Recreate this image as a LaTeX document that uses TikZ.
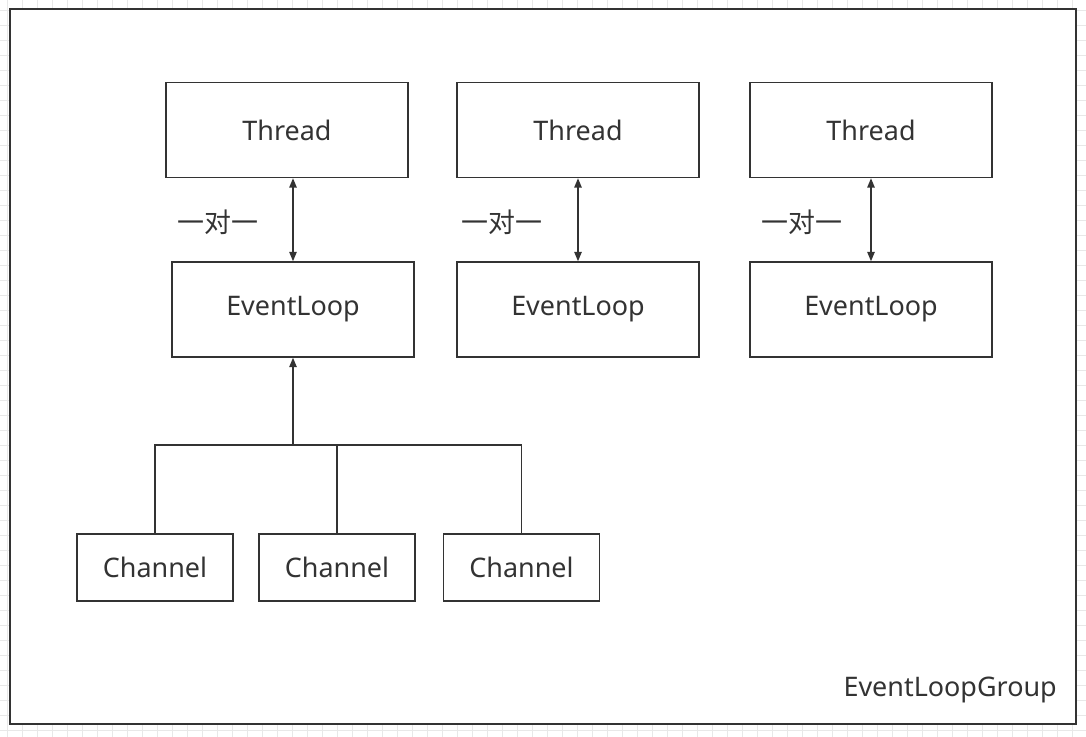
\documentclass[tikz,border=0pt]{standalone}
\usepackage{fontspec}
\setmainfont{Noto Sans}
\newfontfamily\cjk{Noto Sans CJK SC}
\usetikzlibrary{arrows.meta, positioning, calc}
\definecolor{elGray}{HTML}{333333}
\definecolor{elGrid}{HTML}{E8E8E8}

\begin{document}
\begin{tikzpicture}[x=0.75pt, y=-0.75pt,
  >={Triangle[length=7pt, width=5.5pt]},
  every node/.style={text=elGray, font=\fontsize{20.2}{24}\selectfont, inner sep=0pt},
  box/.style={draw=elGray, line width=1.1pt, fill=white},
  threadbox/.style={box, minimum width=181.5pt, minimum height=71.25pt},
  channelbox/.style={box, minimum width=117pt, minimum height=50.25pt},
  groupbox/.style={draw=elGray, line width=1.5pt, fill=white,
                   minimum width=799.5pt, minimum height=536.25pt},
  pairlabel/.style={font=\cjk\fontsize{20.2}{24}\selectfont},
  link/.style={draw=elGray, line width=1.1pt}]
  \useasboundingbox (0,0) rectangle (1086,737);
  % background grid
  \foreach \gx in {7,22,...,1086}
    \draw[elGrid, line width=0.6pt] (\gx,0) -- (\gx,737);
  \foreach \gy in {10,25,...,737}
    \draw[elGrid, line width=0.6pt] (0,\gy) -- (1086,\gy);
  \node[groupbox] (group) at (543,366.5) {};
  \node[anchor=east] (grouplabel) at (1057,690) {EventLoopGroup};
  % threads and event loops
  \node[threadbox] (t1) at (287,130) {Thread};
  \node[threadbox] (e1) at (293,309.5) {EventLoop};
  \node[threadbox] (t2) at (578,130) {Thread};
  \node[threadbox] (e2) at (578,309.5) {EventLoop};
  \node[threadbox] (t3) at (871,130) {Thread};
  \node[threadbox] (e3) at (871,309.5) {EventLoop};
  \foreach \i/\lx in {1/218, 2/502, 3/802} {
    \draw[link, <->] (e\i.north |- t\i.south) -- (e\i.north);
    \node[pairlabel] (pair\i) at (\lx,222) {一对一};
  }
  % channels
  \node[channelbox] (c1) at (155,567.5) {Channel};
  \node[channelbox] (c2) at (337,567.5) {Channel};
  \node[channelbox] (c3) at (521.5,567.5) {Channel};
  \coordinate (bus) at (293,445);
  \draw[link] (c1.north) |- (bus) -| (c3.north);
  \draw[link] (c2.north) -- (c2.north |- bus);
  \draw[link, ->] (bus) -- (e1.south);
\end{tikzpicture}
\end{document}
